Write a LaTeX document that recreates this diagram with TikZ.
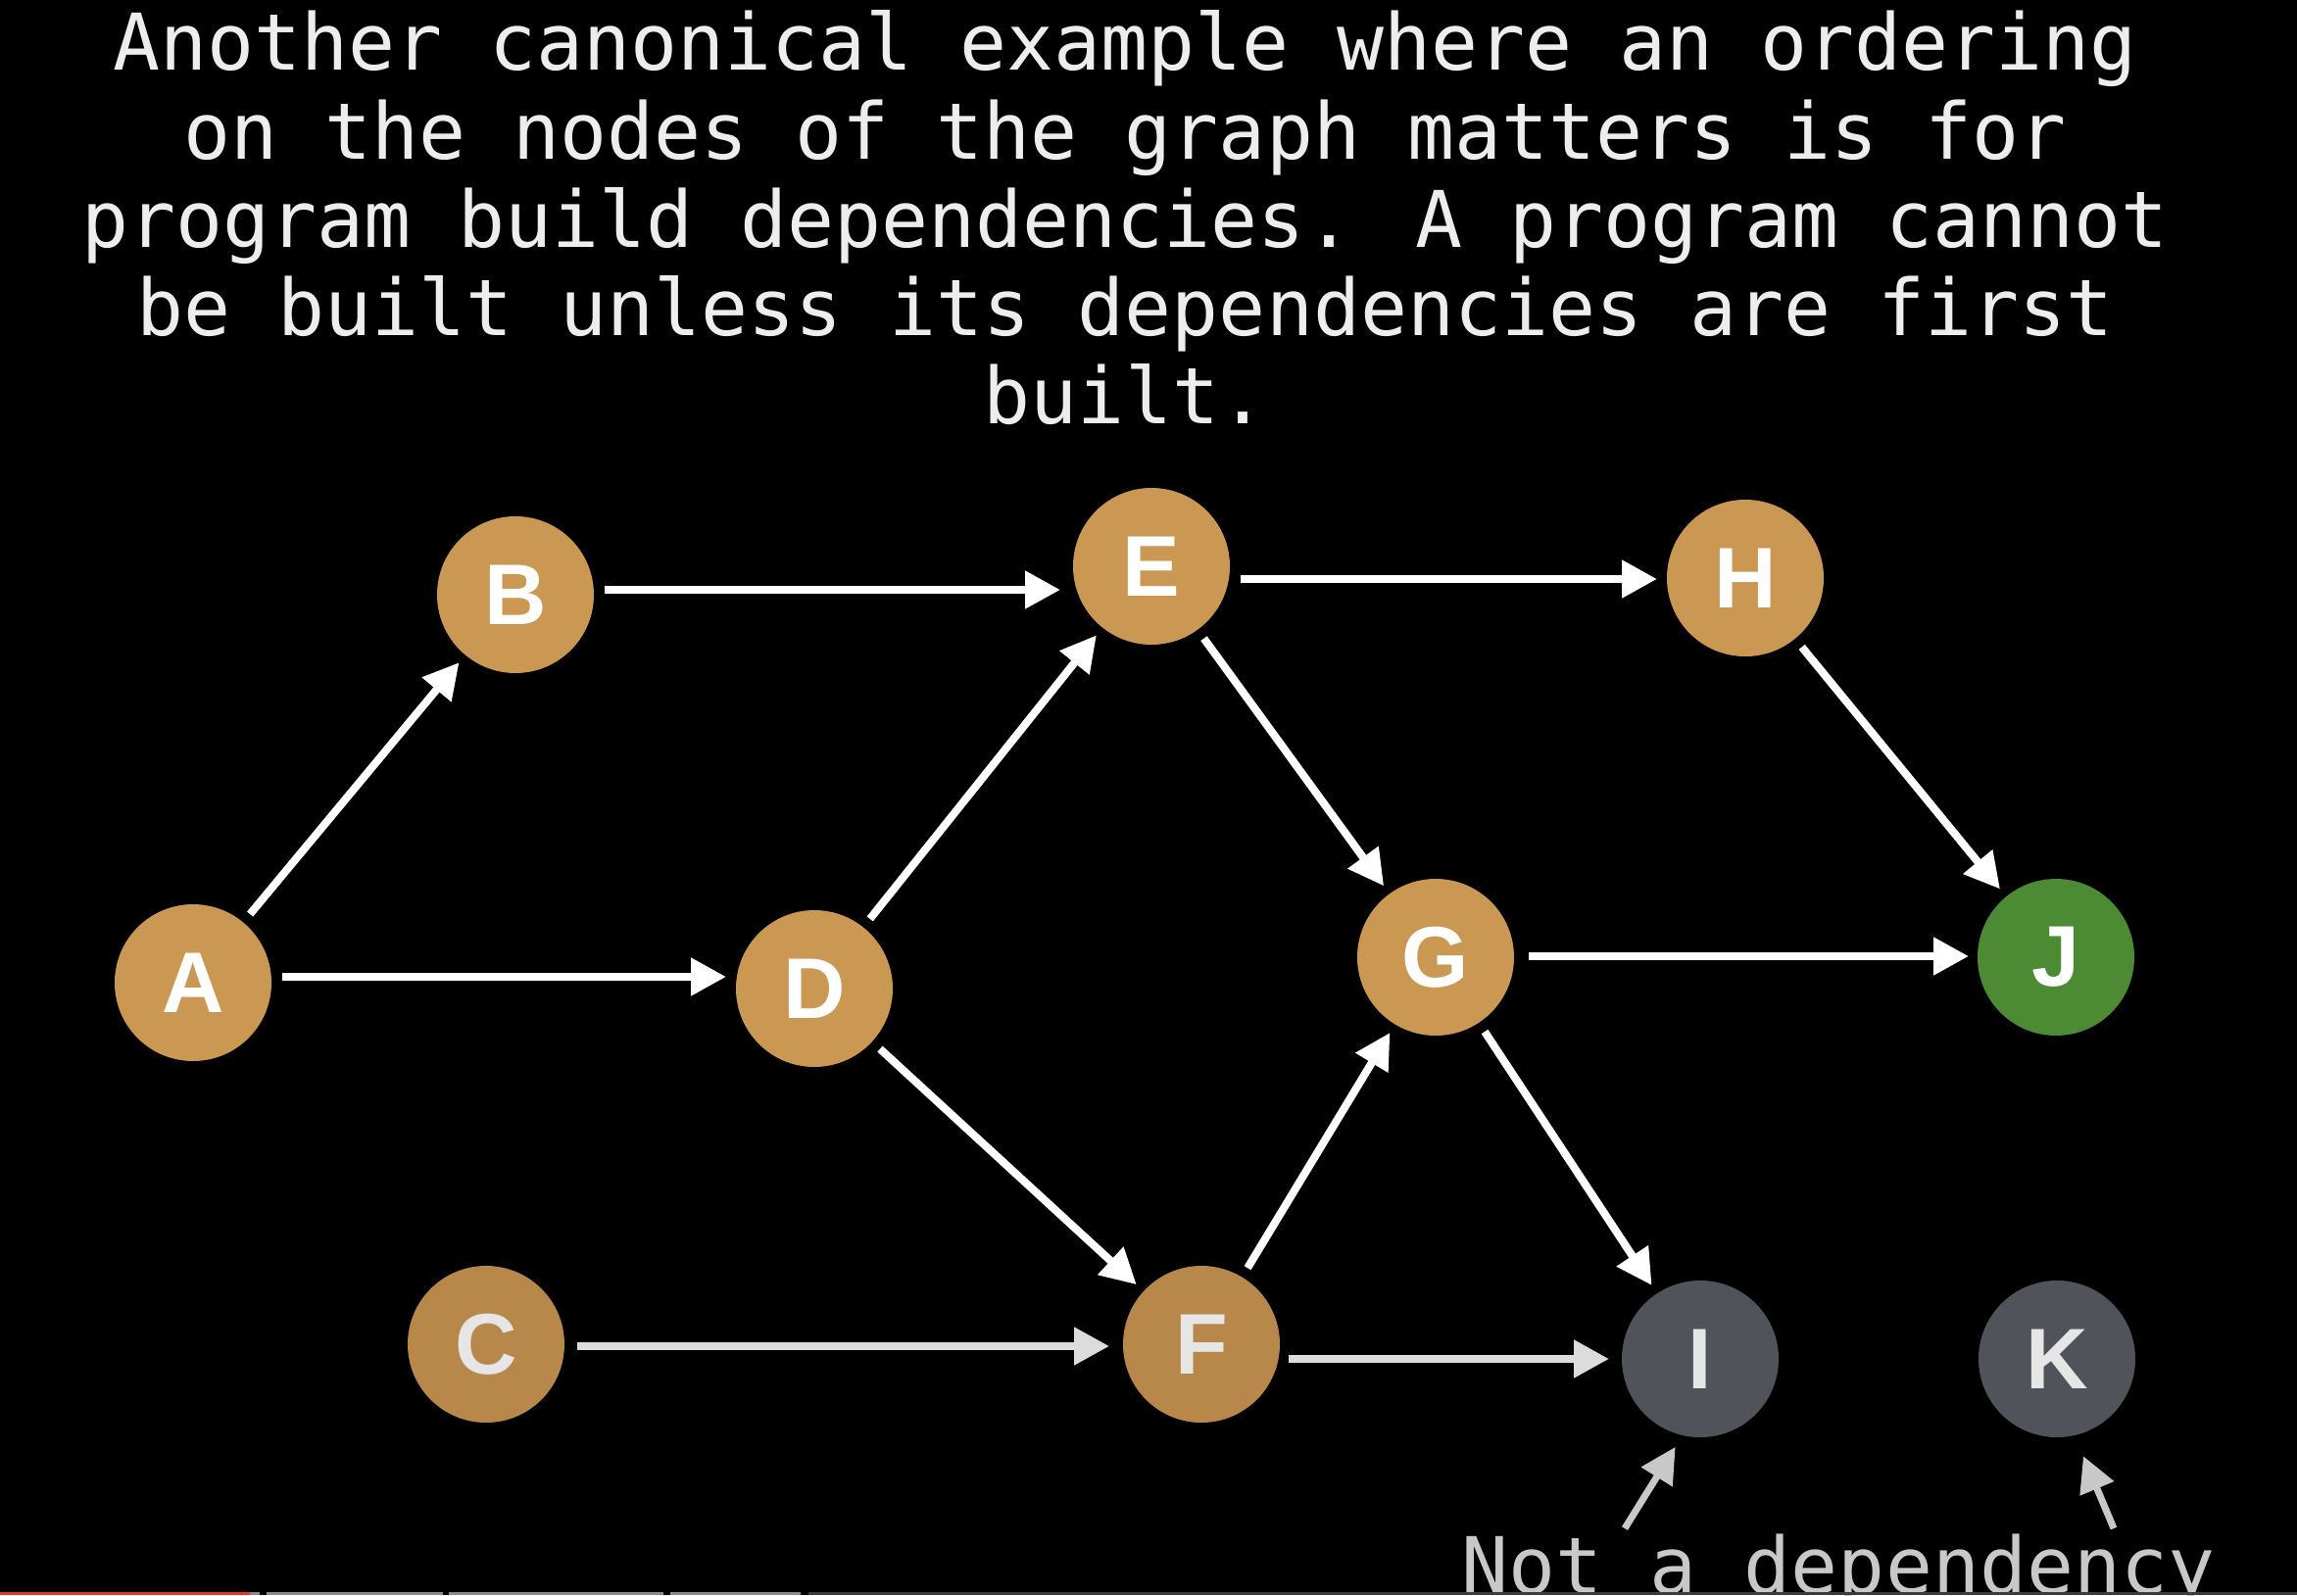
\documentclass[tikz,border=0pt]{standalone}
\usepackage{fontspec}
\newfontfamily\monofam{DejaVu Sans Mono}
\newfontfamily\labelfam{Liberation Sans}
\usetikzlibrary{arrows.meta}
\definecolor{gold}{HTML}{CA9852}
\definecolor{golddark}{HTML}{B8884A}
\definecolor{jgreen}{HTML}{4C8A34}
\definecolor{slate}{HTML}{50535A}
\definecolor{lightlbl}{HTML}{E6E6E6}
\definecolor{titlecol}{HTML}{EDEDED}
\definecolor{notecol}{HTML}{C8C8C8}
\definecolor{dimarrow}{HTML}{DCDCDC}
\definecolor{barred}{HTML}{E8352A}
\definecolor{bargrey}{HTML}{8C8C8C}
\definecolor{bardark}{HTML}{3C3C3C}
\begin{document}
\begin{tikzpicture}[
  vtx/.style={circle, fill=gold, minimum size=1.6cm, inner sep=0pt, outer sep=0pt,
    text=white, font=\labelfam\bfseries\fontsize{25pt}{25pt}\selectfont},
  vtxdim/.style={vtx, fill=golddark, text=lightlbl},
  vtxgreen/.style={vtx, fill=jgreen},
  vtxgrey/.style={vtx, fill=slate, text=lightlbl},
  arr/.style={draw=white, line width=0.08cm, -{Triangle[length=0.36cm,width=0.37cm]},
    shorten <=0.11cm, shorten >=0.1cm},
  arrdim/.style={arr, draw=dimarrow},
  arrnote/.style={draw=notecol, line width=0.07cm, -{Triangle[length=0.36cm,width=0.36cm]}},
  titleline/.style={anchor=base, inner sep=0pt, outer sep=0pt, text=titlecol,
    font=\monofam\fontsize{22.7pt}{25.6pt}\selectfont},
  noteline/.style={titleline, text=notecol}
]
\fill[black] (0,0) rectangle (23.44,-16.28);
\useasboundingbox (0,0) rectangle (23.44,-16.28);

% title
\node[titleline] (t1) at (11.48,-0.71) {Another canonical example where an ordering};
\node[titleline] (t2) at (11.48,-1.62) {on the nodes of the graph matters is for};
\node[titleline] (t3) at (11.48,-2.52) {program build dependencies. A program cannot};
\node[titleline] (t4) at (11.48,-3.42) {be built unless its dependencies are first};
\node[titleline] (t5) at (11.48,-4.32) {built.};

% vertices
\node[vtx] (A) at (1.97,-10.03) {A};
\node[vtx] (B) at (5.26,-6.07) {B};
\node[vtx] (E) at (11.75,-5.78) {E};
\node[vtx] (H) at (17.81,-5.90) {H};
\node[vtx] (D) at (8.31,-10.09) {D};
\node[vtx] (G) at (14.65,-9.77) {G};
\node[vtxgreen] (J) at (20.98,-9.77) {J};
\node[vtxdim] (C) at (4.96,-13.72) {C};
\node[vtxdim] (F) at (12.26,-13.72) {F};
\node[vtxgrey] (I) at (17.35,-13.87) {I};
\node[vtxgrey] (K) at (20.99,-13.87) {K};

% levels of horizontal connectors
\coordinate (yAD) at (0,-9.97);
\coordinate (yBE) at (0,-6.02);
\coordinate (yEH) at (0,-5.91);
\coordinate (yGJ) at (0,-9.76);
\coordinate (yCF) at (0,-13.74);
\coordinate (yFI) at (0,-13.87);

% connectors
\draw[arr] (A.east |- yAD) -- (D.west |- yAD);
\draw[arr, shorten >=0.13cm] (B.east |- yBE) -- (E.west |- yBE);
\draw[arr] (E.east |- yEH) -- (H.west |- yEH);
\draw[arr, shorten <=0.15cm, shorten >=0.09cm] (G.east |- yGJ) -- (J.west |- yGJ);
\draw[arrdim, shorten <=0.13cm, shorten >=0.14cm] (C.east |- yCF) -- (F.west |- yCF);
\draw[arrdim, shorten <=0.09cm, shorten >=0.13cm] (F.east |- yFI) -- (I.west |- yFI);

\draw[arr] (A) -- (B);
\draw[arr] (D) -- (E);
\draw[arr] (E) -- (G);
\draw[arr] (H) -- (J);
\draw[arr] (G) -- (I);
\draw[arr] (D) -- (F);
\draw[arr] (F) -- (G);

% note
\node[noteline] (note) at (18.76,-16.26) {Not a dependency};
\coordinate (nI) at (16.58,-15.60);
\coordinate (nK) at (21.57,-15.60);
\draw[arrnote, shorten >=0.14cm] (nI) -- (I.-103);
\draw[arrnote, shorten >=0.23cm] (nK) -- (K.-77);

% progress bar
\fill[bardark] (8.25,-16.25) rectangle (23.44,-16.28);
\fill[bargrey] (0,-16.25) rectangle (2.65,-16.28);
\fill[bargrey] (2.72,-16.25) rectangle (4.52,-16.28);
\fill[bargrey] (4.58,-16.25) rectangle (6.77,-16.28);
\fill[bargrey] (6.84,-16.25) rectangle (8.17,-16.28);
\fill[barred] (0,-16.25) rectangle (2.55,-16.28);
\end{tikzpicture}
\end{document}
